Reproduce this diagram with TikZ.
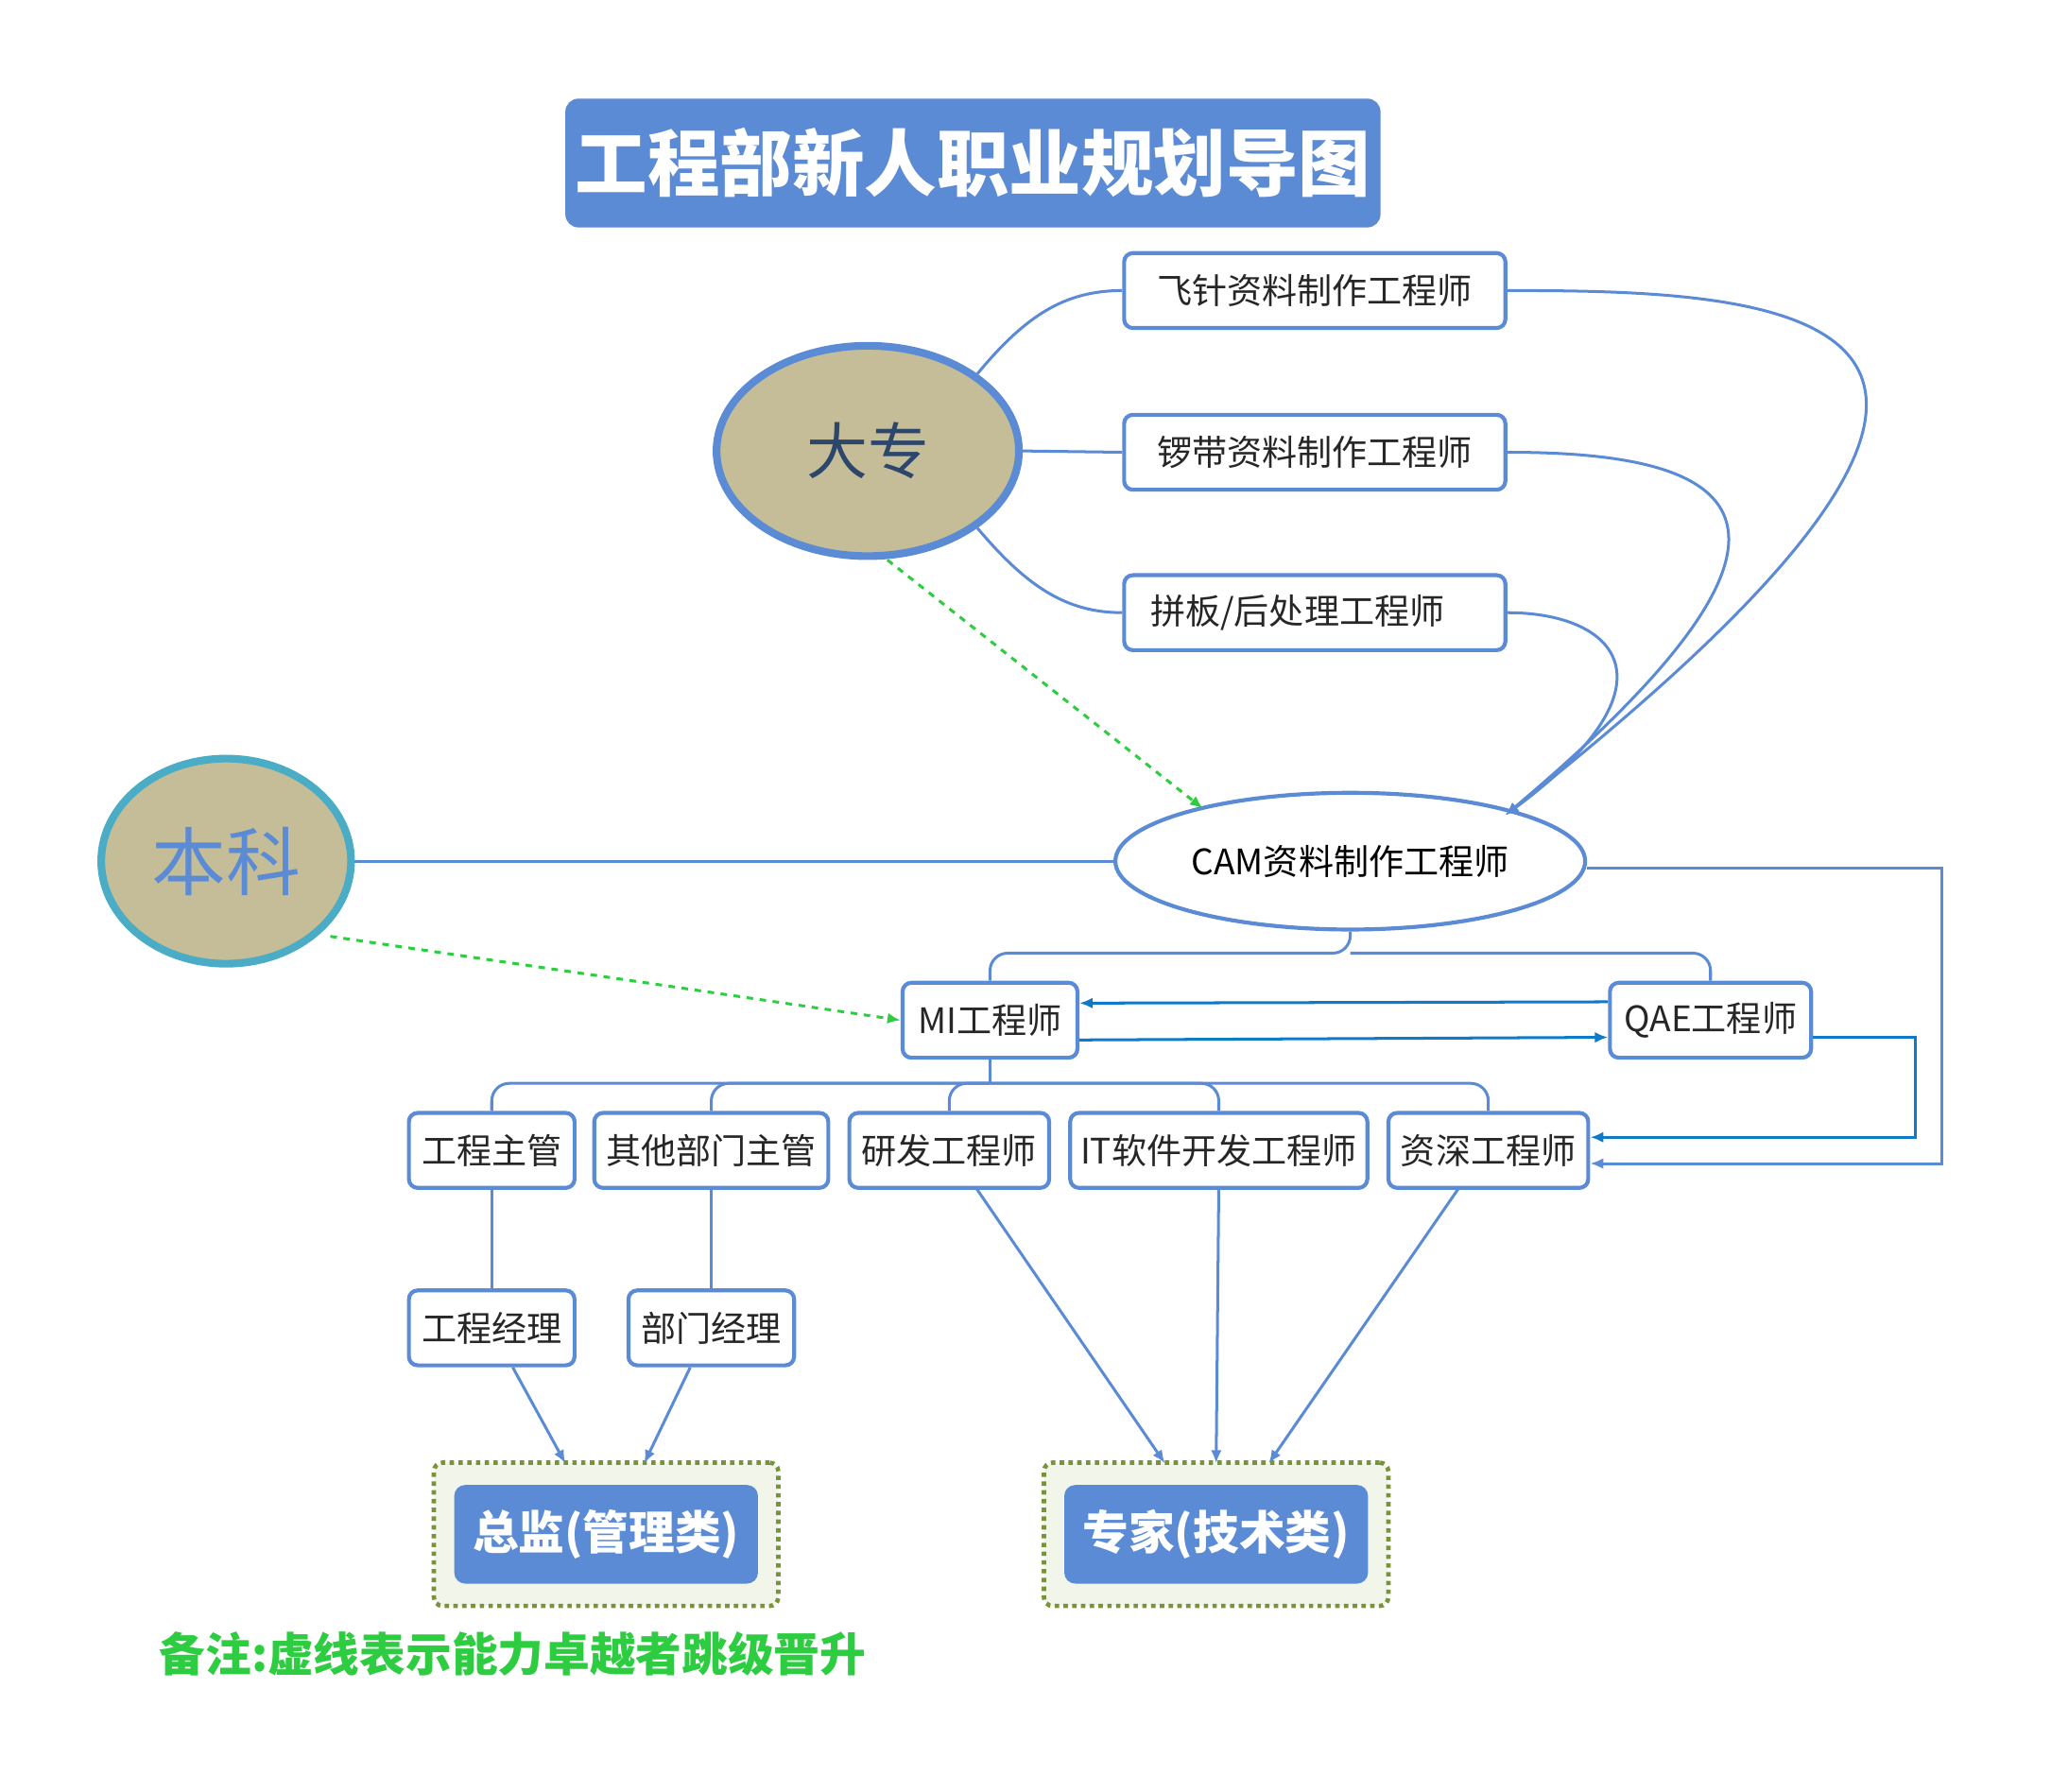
\documentclass[tikz,border=0pt]{standalone}
\usepackage{fontspec}
\setmainfont{Noto Sans CJK SC}
\usetikzlibrary{arrows.meta,shapes.geometric}
\definecolor{bcol}{HTML}{5B8BD5}
\definecolor{tcol}{HTML}{4BACC6}
\definecolor{khaki}{HTML}{C4BD97}
\definecolor{dblue}{HTML}{0E7AC8}
\definecolor{gdash}{HTML}{2ECC40}
\definecolor{olive}{HTML}{77933C}
\definecolor{pale}{HTML}{F2F5EA}
\newdimen\pxu \pxu=0.6pt
\tikzset{
  box/.style={draw=bcol, line width=1.8pt, rounded corners=4pt, fill=white, minimum height={57*\pxu}, font=\fontsize{16}{18}\selectfont, text=black!85, inner sep=2pt},
  link/.style={bcol, line width=1.3pt},
  arr/.style={link, -{Latex[length=6pt,width=5pt]}},
  jump/.style={gdash, line width=1.3pt, dashed, -{Latex[length=6pt,width=5pt]}},
  qae/.style={dblue, line width=1.3pt, -{Latex[length=6pt,width=5pt]}},
  goal/.style={draw=olive, line width=2pt, dotted, fill=pale, rounded corners=4pt, minimum width={262*\pxu}, minimum height={109*\pxu}},
  goalin/.style={fill=bcol, rounded corners=5pt, minimum width={231*\pxu}, minimum height={75*\pxu}, text=white, font=\fontsize{21}{24}\selectfont\bfseries},
  degree/.style={ellipse, line width=3.5pt, fill=khaki, font=\fontsize{28}{32}\selectfont}
}
\begin{document}
\begin{tikzpicture}[x=0.6pt,y=-0.6pt]
  \useasboundingbox (0,0) rectangle (1560,1363);
  % title
  \node[fill=bcol, rounded corners=6pt, minimum width={620*\pxu}, minimum height={98*\pxu}, text=white, font=\fontsize{33}{36}\selectfont\bfseries] (title) at (740,124) {工程部新人职业规划导图};
  % degrees
  \node[degree, draw=bcol, minimum width={230*\pxu}, minimum height={160*\pxu}, text=bcol!50!black] (dz) at (660,343) {大专};
  \node[degree, draw=tcol, minimum width={190*\pxu}, minimum height={156*\pxu}, text=bcol, font=\fontsize{34}{38}\selectfont] (bk) at (172,655) {本科};
  % first posts
  \node[box, minimum width={290*\pxu}] (fz) at (1000,221) {飞针资料制作工程师};
  \node[box, minimum width={290*\pxu}] (ld) at (1000,344) {锣带资料制作工程师};
  \node[box, minimum width={290*\pxu}, text width={250*\pxu}] (pb) at (1000,466) {拼板/后处理工程师};
  \node[draw=bcol, line width=1.8pt, ellipse, fill=white, minimum width={310*\pxu}, minimum height={104*\pxu}, font=\fontsize{16}{18}\selectfont] (cam) at (1027,655) {CAM资料制作工程师};
  \node[box, minimum width={133*\pxu}] (mi) at (753,776) {MI工程师};
  \node[box, minimum width={153*\pxu}] (qa) at (1301,776) {QAE工程师};
  % third row
  \node[box, minimum width={126*\pxu}] (gz) at (374,875) {工程主管};
  \node[box, minimum width={178*\pxu}] (qt) at (541,875) {其他部门主管};
  \node[box, minimum width={152*\pxu}] (yf) at (722,875) {研发工程师};
  \node[box, minimum width={226*\pxu}] (it) at (927,875) {IT软件开发工程师};
  \node[box, minimum width={152*\pxu}] (zs) at (1132,875) {资深工程师};
  \node[box, minimum width={126*\pxu}] (gj) at (374,1010) {工程经理};
  \node[box, minimum width={126*\pxu}] (bj) at (541,1010) {部门经理};
  % goals
  \node[goal] (zjo) at (461,1167) {};
  \node[goalin] (zj) at (461,1167) {总监(管理类)};
  \node[goal] (zko) at (925,1167) {};
  \node[goalin] (zk) at (925,1167) {专家(技术类)};
  \node[text=gdash, font=\fontsize{21}{24}\selectfont\bfseries] (note) at (390,1258) {备注:虚线表示能力卓越者跳级晋升};
  % links
  \draw[link] (dz.north east) .. controls (780,240) and (810,221) .. (fz.west);
  \draw[link] (dz.east) -- (ld.west);
  \draw[link] (dz.south east) .. controls (780,445) and (810,466) .. (pb.west);
  \draw[arr] (fz.east) .. controls (1350,221) and (1640,230) .. (1145,620);
  \draw[arr] (ld.east) .. controls (1300,344) and (1430,380) .. (1145,620);
  \draw[arr] (pb.east) .. controls (1230,466) and (1280,520) .. (1145,620);
  \draw[jump] (dz.south) ++(15,0) -- (915,615);
  \draw[link] (bk.east) -- (cam.west);
  \draw[jump] (bk.south east) ++(10,0) -- (mi.west);
  \draw[link, rounded corners=8pt] (cam.south) -- (1027,725) -- (753,725) -- (mi.north);
  \draw[link, rounded corners=8pt] (1027,725) -- (1301,725) -- (qa.north);
  \draw[qae] (qa.west |- 0,762) -- (mi.east |- 0,763);
  \draw[qae] (mi.east |- 0,791) -- (qa.west |- 0,789);
  \draw[qae] (qa.east |- 0,789) -- (1457,789) -- (1457,865) -- (zs.east |- 0,865);
  \draw[arr] (cam.east) ++(0,5) -- (1477,660) -- (1477,885) -- (zs.east |- 0,885);
  \draw[link] (mi.south) -- (753,824);
  \foreach \n in {gz,qt,yf,it,zs}
    \draw[link, rounded corners=8pt] (753,824) -- (\n.north |- 0,824) -- (\n.north);
  \draw[link] (gz) -- (gj);
  \draw[link] (qt) -- (bj);
  \draw[arr] (390,1040) -- (430,1113);
  \draw[arr] (525,1040) -- (490,1113);
  \draw[arr] (742,903) -- (886,1113);
  \draw[arr] (927,903) -- (925,1113);
  \draw[arr] (1110,903) -- (965,1113);
\end{tikzpicture}
\end{document}
